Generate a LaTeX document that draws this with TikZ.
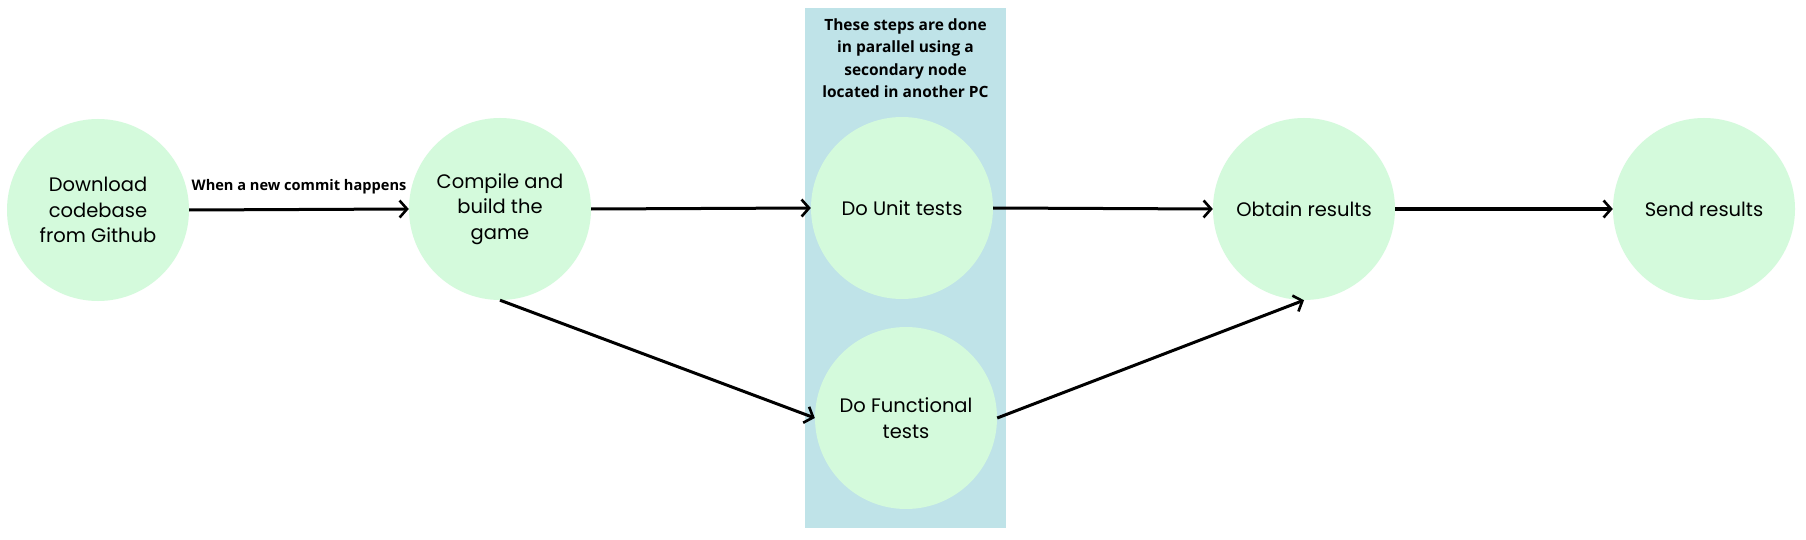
\documentclass[tikz,border=0pt]{standalone}
\usepackage{fontspec}
\setmainfont{Poppins}
\newfontfamily\labelfont{Open Sans}
\usetikzlibrary{arrows.meta}
\definecolor{nodegreen}{HTML}{D4FADC}
\definecolor{panelblue}{HTML}{BFE3E8}
\tikzset{
  stepnode/.style={circle, fill=nodegreen, minimum size=182pt, inner sep=0pt, align=center, font=\fontsize{19.5}{25.5}\selectfont},
  arr/.style={line width=3pt, -{Straight Barb[length=7.5pt,width=17pt,line width=2.6pt]}},
  boldlabel/.style={font=\labelfont\bfseries\fontsize{14.6}{22.5}\selectfont, align=center, inner sep=0pt},
  notelabel/.style={font=\labelfont\bfseries\fontsize{15.5}{22.5}\selectfont, align=center, inner sep=0pt}
}
\begin{document}
\begin{tikzpicture}[x=1pt,y=-1pt]
\useasboundingbox (0,0) rectangle (1806,540);
\fill[white] (0,0) rectangle (1806,540);
\fill[panelblue] (805,8) rectangle (1006,528);
\node[notelabel] (note) at (905.5,58) {These steps are done\\in parallel using a\\secondary node\\located in another PC};
\node[stepnode] (dl) at (98,210) {Download\\codebase\\from Github};
\node[stepnode] (cp) at (500,209) {Compile and\\build the\\game};
\node[stepnode] (ut) at (902,208) {Do Unit tests};
\node[stepnode] (fn) at (906,418) {Do Functional\\tests};
\node[stepnode] (ob) at (1304,209) {Obtain results};
\node[stepnode] (sr) at (1704,209) {Send results};
\draw[arr] (dl.east) -- (cp.west) node[midway, above=14pt, boldlabel] (lbl) {When a new commit happens};
\draw[arr] (cp.east) -- (ut.west);
\draw[arr] (cp.south) -- (fn.west);
\draw[arr] (ut.east) -- (ob.west);
\draw[arr] (fn.east) -- (ob.south);
\draw[arr] (ob.east) -- (sr.west);
\end{tikzpicture}
\end{document}
